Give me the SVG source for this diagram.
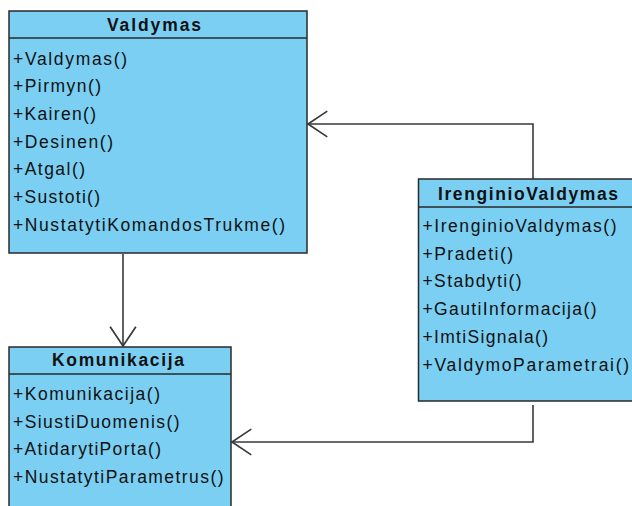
<svg xmlns="http://www.w3.org/2000/svg" width="632" height="506" viewBox="0 0 632 506">
  <style>
    .box { fill: #7acff3; stroke: #2a2a2a; stroke-width: 1.5; }
    .sep { stroke: #2a2a2a; stroke-width: 1.5; }
    .title { font-family: "Liberation Sans", Arial, sans-serif; font-size: 17.5px; font-weight: bold; fill: #111; }
    .op { font-family: "Liberation Sans", Arial, sans-serif; font-size: 17.5px; fill: #111; }
    .edge { fill: none; stroke: #3a3a3a; stroke-width: 1.6; }
  </style>
  <defs>
    <marker id="open-arrow" markerUnits="userSpaceOnUse" markerWidth="24" markerHeight="30" viewBox="-20 -14 22 28" refX="0" refY="0" orient="auto">
      <path d="M-18,-12 L0,0 L-18,12" fill="none" stroke="#3a3a3a" stroke-width="1.6"/>
    </marker>
  </defs>
  <rect width="632" height="506" fill="#ffffff"/>

  <!-- Connectors -->
  <g id="connectors">
    <path class="edge" d="M533,179 V124 H308" marker-end="url(#open-arrow)"/>
    <path class="edge" d="M123,254 V346" marker-end="url(#open-arrow)"/>
    <path class="edge" d="M533,405 V442 H232" marker-end="url(#open-arrow)"/>
  </g>

  <!-- Class: Valdymas -->
  <g id="valdymas">
    <rect class="box" x="9" y="11" width="298" height="242"/>
    <line class="sep" x1="9" y1="38" x2="307" y2="38"/>
    <text class="title" x="107" y="31" textLength="94" lengthAdjust="spacing">Valdymas</text>
    <text class="op" x="13" y="64.5" textLength="114" lengthAdjust="spacing">+Valdymas()</text>
    <text class="op" x="13" y="92.2" textLength="88" lengthAdjust="spacing">+Pirmyn()</text>
    <text class="op" x="13" y="119.9" textLength="83" lengthAdjust="spacing">+Kairen()</text>
    <text class="op" x="13" y="147.6" textLength="100" lengthAdjust="spacing">+Desinen()</text>
    <text class="op" x="13" y="175.3" textLength="72" lengthAdjust="spacing">+Atgal()</text>
    <text class="op" x="13" y="203" textLength="87" lengthAdjust="spacing">+Sustoti()</text>
    <text class="op" x="13" y="230.7" textLength="272" lengthAdjust="spacing">+NustatytiKomandosTrukme()</text>
  </g>

  <!-- Class: IrenginioValdymas -->
  <g id="irenginio-valdymas">
    <rect class="box" x="418.5" y="179" width="230" height="222"/>
    <line class="sep" x1="418.5" y1="207" x2="640" y2="207"/>
    <text class="title" x="438" y="200" textLength="180" lengthAdjust="spacing">IrenginioValdymas</text>
    <text class="op" x="422.5" y="232" textLength="194" lengthAdjust="spacing">+IrenginioValdymas()</text>
    <text class="op" x="422.5" y="259.7" textLength="90.5" lengthAdjust="spacing">+Pradeti()</text>
    <text class="op" x="422.5" y="287.4" textLength="99" lengthAdjust="spacing">+Stabdyti()</text>
    <text class="op" x="422.5" y="315.1" textLength="174" lengthAdjust="spacing">+GautiInformacija()</text>
    <text class="op" x="422.5" y="342.8" textLength="125.5" lengthAdjust="spacing">+ImtiSignala()</text>
    <text class="op" x="422.5" y="370.5" textLength="206.5" lengthAdjust="spacing">+ValdymoParametrai()</text>
  </g>

  <!-- Class: Komunikacija -->
  <g id="komunikacija">
    <rect class="box" x="9" y="347" width="222" height="170"/>
    <line class="sep" x1="9" y1="374" x2="231" y2="374"/>
    <text class="title" x="52" y="366" textLength="132" lengthAdjust="spacing">Komunikacija</text>
    <text class="op" x="13" y="400" textLength="147" lengthAdjust="spacing">+Komunikacija()</text>
    <text class="op" x="13" y="427.5" textLength="166.5" lengthAdjust="spacing">+SiustiDuomenis()</text>
    <text class="op" x="13" y="455" textLength="148" lengthAdjust="spacing">+AtidarytiPorta()</text>
    <text class="op" x="13" y="482.5" textLength="210.5" lengthAdjust="spacing">+NustatytiParametrus()</text>
  </g>
</svg>
